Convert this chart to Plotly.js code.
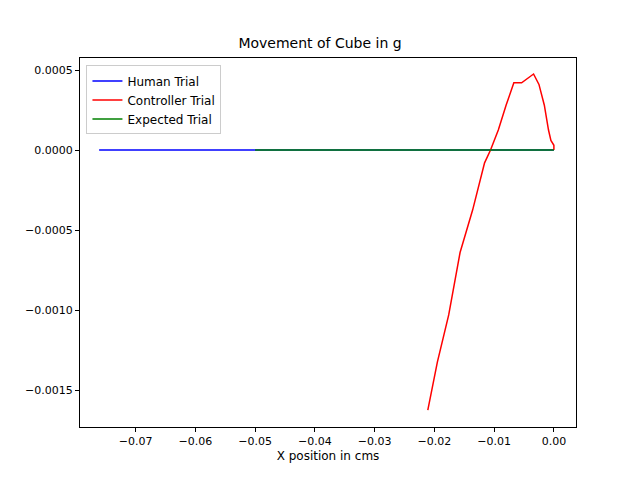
<!DOCTYPE html>
<html>
<head>
<script src="https://cdn.plot.ly/plotly-3.0.1.min.js"></script>
<style>body{margin:0}</style>
</head>
<body>
<div id="chart" style="width:640px;height:480px"></div>
<script>
// values
const humanX = [-0.0761, 0.0]
const humanY = [0, 0]
const controllerX = [-0.0211, -0.0195, -0.0176, -0.0157, -0.0136, -0.0116, -0.0106, -0.0093, -0.0080, -0.0067, -0.0054, -0.0034, -0.0025, -0.0016, -0.0009, -0.0005, 0.0, 0.0]
const controllerY = [-0.001625, -0.001325, -0.00103, -0.00064, -0.000375, -0.00008, 0, 0.000125, 0.00028, 0.00042, 0.00042, 0.000475, 0.00041, 0.00028, 0.000125, 0.00006, 0.00003, 0]
const expectedX = [-0.05, 0.0]
const expectedY = [0, 0]

const traces = [
    { x: humanX, y: humanY, type: "scatter", mode: "lines", name: "Human Trial", line: { color: "blue", width: 1.5 } },
    { x: controllerX, y: controllerY, type: "scatter", mode: "lines", name: "Controller Trial", line: { color: "red", width: 1.5 } },
    { x: expectedX, y: expectedY, type: "scatter", mode: "lines", name: "Expected Trial", line: { color: "green", width: 1.5 } },
]

const axisStyle = {
    showgrid: false,
    zeroline: false,
    showline: true,
    mirror: true,
    linecolor: "black",
    linewidth: 1,
    ticks: "outside",
    ticklen: 4,
    tickcolor: "black",
    tickfont: { size: 11, color: "black" },
}

const layout = {
    width: 640,
    height: 480,
    margin: { l: 80, r: 64, t: 58, b: 53 },
    paper_bgcolor: "white",
    plot_bgcolor: "white",
    font: { family: "DejaVu Sans, sans-serif", color: "black" },
    title: { text: "Movement of Cube in g", font: { size: 14 }, x: 0.5, xanchor: "center", y: 0.91, yanchor: "middle" },
    xaxis: Object.assign({}, axisStyle, {
        range: [-0.0793, 0.0037],
        tickvals: [-0.07, -0.06, -0.05, -0.04, -0.03, -0.02, -0.01, 0],
        ticktext: ["\u22120.07", "\u22120.06", "\u22120.05", "\u22120.04", "\u22120.03", "\u22120.02", "\u22120.01", "0.00"],
        title: { text: "X position in cms", font: { size: 12 }, standoff: 4 },
    }),
    yaxis: Object.assign({}, axisStyle, {
        range: [-0.00173, 0.000575],
        tickvals: [-0.0015, -0.001, -0.0005, 0, 0.0005],
        ticktext: ["\u22120.0015", "\u22120.0010", "\u22120.0005", "0.0000", "0.0005"],
    }),
    showlegend: true,
    legend: {
        x: 0.013, y: 0.98, xanchor: "left", yanchor: "top",
        bgcolor: "rgba(255,255,255,0.8)", bordercolor: "#cccccc", borderwidth: 1,
        font: { size: 12 },
    },
}

Plotly.newPlot("chart", traces, layout, { displayModeBar: false })
</script>
</body>
</html>
